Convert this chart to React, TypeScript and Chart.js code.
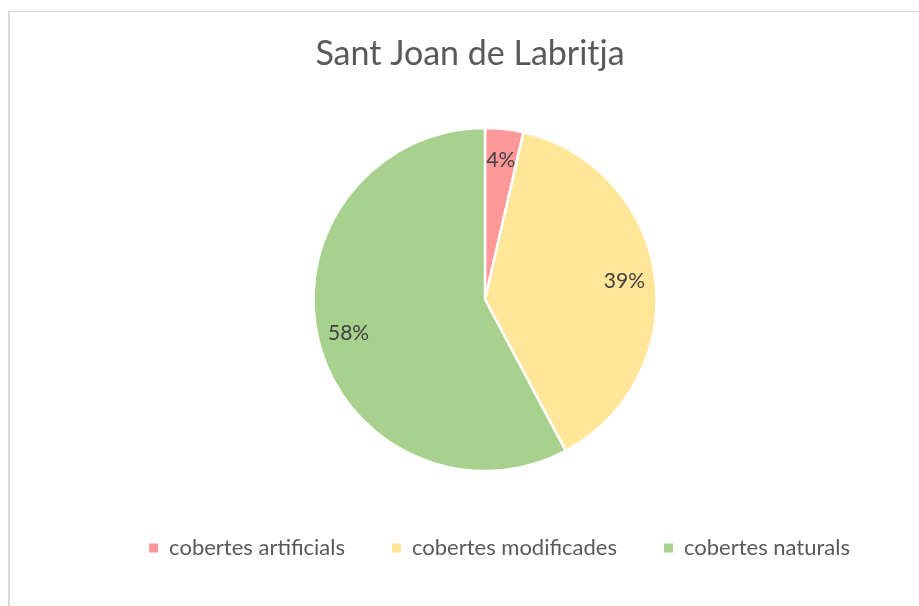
import React, { useEffect, useRef } from "react";
import { Chart, registerables } from "chart.js";

Chart.register(...registerables);

const chartTitle = "Sant Joan de Labritja";
const categories = ["cobertes artificials", "cobertes modificades", "cobertes naturals"];
const shares = [3.6, 38.6, 57.8];
const percentLabels = ["4%", "39%", "58%"];
const sliceColors = ["#FF9999", "#FFE699", "#A9D18E"];

const FONT = "Lato, Carlito, 'Liberation Sans', sans-serif";

const titlePlugin = {
  id: "customTitle",
  afterDraw(chart: any) {
    const ctx = chart.ctx;
    ctx.save();
    ctx.font = `34px ${FONT}`;
    ctx.fillStyle = "#595959";
    ctx.textAlign = "center";
    ctx.textBaseline = "alphabetic";
    ctx.fillText(chartTitle, 460, 53);
    ctx.restore();
  },
};

const dataLabelPlugin = {
  id: "pieLabels",
  afterDatasetsDraw(chart: any) {
    const ctx = chart.ctx;
    const meta = chart.getDatasetMeta(0);
    ctx.save();
    ctx.font = `21px ${FONT}`;
    ctx.fillStyle = "#404040";
    ctx.textAlign = "center";
    ctx.textBaseline = "middle";
    meta.data.forEach((arc: any, i: number) => {
      const { x, y, startAngle, endAngle, outerRadius } = arc.getProps(
        ["x", "y", "startAngle", "endAngle", "outerRadius"],
        true
      );
      const mid = (startAngle + endAngle) / 2;
      const r = outerRadius * 0.82;
      ctx.fillText(percentLabels[i], x + Math.cos(mid) * r, y + Math.sin(mid) * r);
    });
    ctx.restore();
  },
};

export default function App() {
  const canvasRef = useRef<HTMLCanvasElement | null>(null);

  useEffect(() => {
    if (!canvasRef.current) return;
    const chart = new Chart(canvasRef.current, {
      type: "pie",
      data: {
        labels: categories,
        datasets: [
          {
            data: shares,
            backgroundColor: sliceColors,
            borderColor: "#ffffff",
            borderWidth: 2.5,
          },
        ],
      },
      options: {
        responsive: false,
        animation: false,
        devicePixelRatio: 1,
        radius: 171.5,
        layout: { padding: { top: 97, bottom: 3, left: 63, right: 93 } },
        plugins: {
          title: { display: false },
          tooltip: { enabled: false },
          legend: {
            position: "bottom",
            align: "end",
            labels: {
              boxWidth: 9,
              boxHeight: 9,
              padding: 47,
              color: "#595959",
              font: { family: FONT, size: 22 },
              generateLabels(c: any) {
                const items = Chart.overrides.pie.plugins.legend.labels.generateLabels(c);
                return items.map((it: any) => ({ ...it, lineWidth: 0, strokeStyle: "transparent" }));
              },
            },
          },
        },
      } as any,
      plugins: [titlePlugin, dataLabelPlugin],
    });
    return () => chart.destroy();
  }, []);

  return (
    <div
      style={{
        position: "fixed",
        left: 0,
        top: 0,
        width: 919,
        height: 606,
        overflow: "hidden",
        background: "#ffffff",
      }}
    >
      <div
        style={{
          position: "absolute",
          left: 8,
          top: 11,
          width: 1000,
          height: 700,
          borderLeft: "2px solid #d9d9d9",
          borderTop: "1px solid #d9d9d9",
        }}
      />
      <canvas
        ref={canvasRef}
        width={980}
        height={560}
        style={{ position: "absolute", left: 10, top: 12, width: 980, height: 560 }}
      />
    </div>
  );
}
